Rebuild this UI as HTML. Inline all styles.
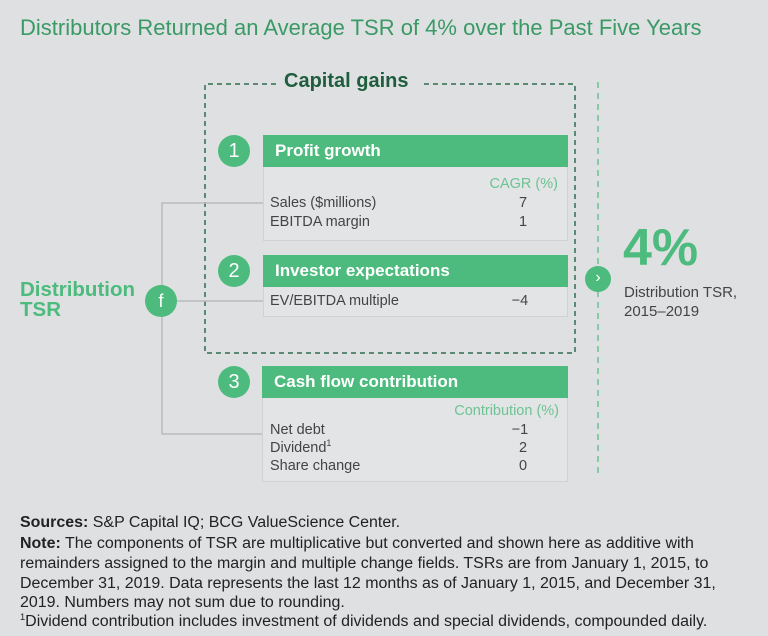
<!DOCTYPE html>
<html><head><meta charset="utf-8"><style>
body{margin:0;width:768px;height:636px;background:#dfe0e2;font-family:"Liberation Sans",sans-serif;position:relative;overflow:hidden}
.a{position:absolute;white-space:nowrap}
.hdr{position:absolute;background:#4cbb7d;color:#fff;font-weight:bold;font-size:17px;line-height:32px;padding-left:12px;box-sizing:border-box}
.body{position:absolute;background:#e3e4e5;border:1px solid #d0d1d3;box-sizing:border-box}
.circ{position:absolute;width:32px;height:32px;border-radius:50%;background:#4cbb7d;color:#fff;font-size:20px;text-align:center;line-height:32px}
.t{position:absolute;font-size:14.5px;color:#444;white-space:nowrap;line-height:17px}
.v{position:absolute;font-size:14.5px;color:#444;width:40px;text-align:center;line-height:17px}
.g{position:absolute;font-size:14.5px;color:#6cc393;white-space:nowrap;text-align:right}
.ft{position:absolute;left:20px;font-size:15.5px;color:#222;white-space:nowrap;transform:scaleX(1.03);transform-origin:left top;line-height:18px}
sup{line-height:0}
</style></head><body>
<div class="a" style="left:20px;top:15px;font-size:22px;color:#3a9a66">Distributors Returned an Average TSR of 4% over the Past Five Years</div>

<svg class="a" style="left:0;top:0" width="768" height="500">
<path d="M276 84 H205 V353 H575 V84 H420" fill="none" stroke="#2f6e4e" stroke-width="1.5" stroke-dasharray="5,4"/>
<line x1="598" y1="82" x2="598" y2="474" stroke="#6cc393" stroke-width="1.5" stroke-dasharray="6,5"/>
<path d="M263 203 H162 V434 H263 M177 301 H263" fill="none" stroke="#b9babc" stroke-width="1.5"/>
</svg>
<div class="a" style="left:284px;top:70px;font-size:20px;font-weight:bold;color:#1e5e3e">Capital gains</div>

<div class="a" style="left:20px;top:280px;font-size:20.5px;font-weight:bold;color:#4cbb7d;line-height:20px">Distribution<br>TSR</div>
<div class="circ" style="left:145px;top:285px;font-size:18px">f</div>

<div class="circ" style="left:218px;top:135px">1</div>
<div class="body" style="left:263px;top:135px;width:305px;height:106px"></div>
<div class="hdr" style="left:263px;top:135px;width:305px;height:32px">Profit growth</div>
<div class="g" style="left:480px;top:176px;width:78px">CAGR (%)</div>
<div class="t" style="left:270px;top:195px">Sales ($millions)</div>
<div class="v" style="left:503px;top:195px">7</div>
<div class="t" style="left:270px;top:214px">EBITDA margin</div>
<div class="v" style="left:503px;top:214px">1</div>

<div class="circ" style="left:218px;top:255px">2</div>
<div class="body" style="left:263px;top:255px;width:305px;height:62px"></div>
<div class="hdr" style="left:263px;top:255px;width:305px;height:32px">Investor expectations</div>
<div class="t" style="left:270px;top:293px">EV/EBITDA multiple</div>
<div class="v" style="left:500px;top:293px">−4</div>

<div class="circ" style="left:218px;top:366px">3</div>
<div class="body" style="left:262px;top:366px;width:306px;height:116px"></div>
<div class="hdr" style="left:262px;top:366px;width:306px;height:32px">Cash flow contribution</div>
<div class="g" style="left:430px;top:403px;width:129px">Contribution (%)</div>
<div class="t" style="left:270px;top:422px">Net debt</div>
<div class="v" style="left:500px;top:422px">−1</div>
<div class="t" style="left:270px;top:440px">Dividend<sup style="font-size:9px">1</sup></div>
<div class="v" style="left:503px;top:440px">2</div>
<div class="t" style="left:270px;top:458px">Share change</div>
<div class="v" style="left:503px;top:458px">0</div>

<div class="circ" style="left:585px;top:266px;width:26px;height:26px;line-height:24px;font-size:16px">›</div>
<div class="a" style="left:623px;top:218px;font-size:52px;font-weight:bold;color:#4cbb7d">4%</div>
<div class="a" style="left:624px;top:283px;font-size:15px;color:#444;line-height:19px">Distribution TSR,<br>2015–2019</div>

<div class="ft" style="top:514px"><b>Sources:</b> S&amp;P Capital IQ; BCG ValueScience Center.</div>
<div class="ft" style="top:535px"><b>Note:</b> The components of TSR are multiplicative but converted and shown here as additive with</div>
<div class="ft" style="top:555px">remainders assigned to the margin and multiple change fields. TSRs are from January 1, 2015, to</div>
<div class="ft" style="top:575px">December 31, 2019. Data represents the last 12 months as of January 1, 2015, and December 31,</div>
<div class="ft" style="top:594px">2019. Numbers may not sum due to rounding.</div>
<div class="ft" style="top:613px"><sup style="font-size:9px">1</sup>Dividend contribution includes investment of dividends and special dividends, compounded daily.</div>
</body></html>
